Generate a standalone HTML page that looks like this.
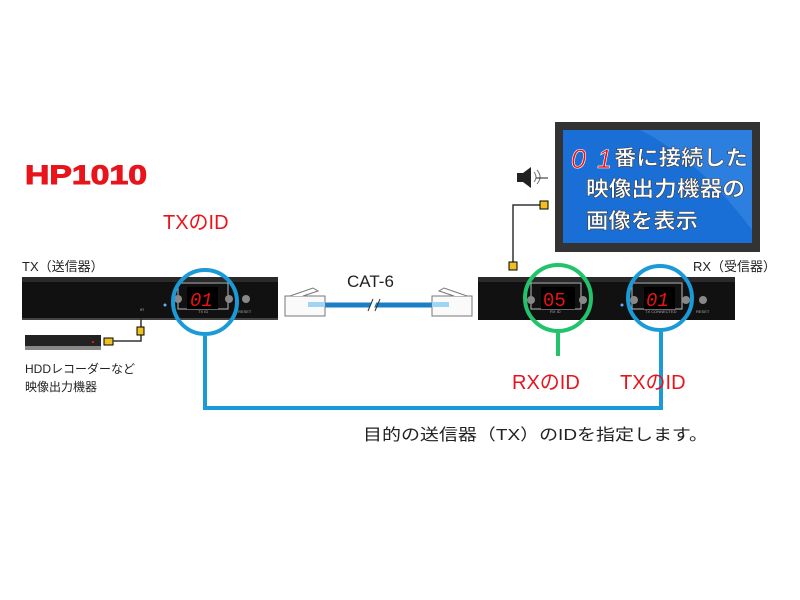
<!DOCTYPE html>
<html><head><meta charset="utf-8"><style>
body{margin:0;background:#fff;}
svg{display:block;font-family:"Liberation Sans","Noto Sans CJK JP",sans-serif;}
</style></head><body>
<svg width="800" height="600" viewBox="0 0 800 600" xmlns="http://www.w3.org/2000/svg">
<rect width="800" height="600" fill="#fff"/>
<text x="25" y="184" font-size="27" font-weight="bold" fill="#e8141c" font-family="Liberation Sans, sans-serif" textLength="122" lengthAdjust="spacingAndGlyphs" stroke="#e8141c" stroke-width="1">HP1010</text>
<text x="163" y="229" font-size="20" fill="#e8141c">TXのID</text>
<text x="22" y="271" font-size="13" fill="#222">TX（送信器）</text>

<!-- TX box -->
<rect x="22" y="277" width="256" height="43" fill="#111"/>
<rect x="22" y="277" width="256" height="5" fill="#2a2a2a"/>
<rect x="22" y="318" width="256" height="2" fill="#444"/>
<rect x="178" y="283" width="50" height="26" fill="none" stroke="#bbb" stroke-width="1"/>
<rect x="187" y="287" width="31" height="22" fill="#000"/>
<text x="190" y="306" font-size="19" fill="#e11" font-family="Liberation Mono, monospace" font-style="italic">01</text>
<circle cx="178" cy="299" r="4" fill="#888"/><circle cx="229" cy="299" r="4" fill="#888"/>
<circle cx="246" cy="299" r="4" fill="#888"/>
<text x="198" y="313" font-size="4" fill="#aaa">TX ID</text>
<text x="238" y="313" font-size="4" fill="#aaa">RESET</text>
<text x="140" y="311" font-size="4" fill="#aaa">IR</text>
<circle cx="165" cy="305" r="1.5" fill="#6af"/>

<polyline points="205,336 205,408 661,408 661,330" fill="none" stroke="#1a9ad6" stroke-width="4"/>
<line x1="558" y1="331" x2="558" y2="356" stroke="#22c36a" stroke-width="4"/>
<circle cx="205" cy="302" r="32" fill="none" stroke="#1a9ad6" stroke-width="4"/>

<!-- HDD -->
<rect x="25" y="335" width="76" height="13" fill="#222"/>
<rect x="25" y="346" width="76" height="4" fill="#888"/>
<rect x="92" y="341" width="2" height="2" fill="#e11"/>
<rect x="104" y="338" width="9" height="7" fill="#f0c020" stroke="#000"/>
<polyline points="113,341 141,341 141,318" fill="none" stroke="#333" stroke-width="1.5"/>
<rect x="137" y="327" width="7" height="8" fill="#f0c020" stroke="#000"/>
<text x="25" y="373" font-size="12" fill="#222">HDDレコーダーなど</text>
<text x="25" y="391" font-size="12" fill="#222">映像出力機器</text>

<!-- cable -->
<text x="347" y="287" font-size="17" fill="#222">CAT-6</text>
<line x1="320" y1="305" x2="437" y2="305" stroke="#1a7fc4" stroke-width="5"/>
<line x1="370" y1="312" x2="376" y2="298" stroke="#fff" stroke-width="4"/>
<line x1="368" y1="311" x2="373" y2="299" stroke="#333" stroke-width="1"/>
<line x1="375" y1="311" x2="380" y2="299" stroke="#333" stroke-width="1"/>
<g stroke="#777" stroke-width="1" fill="#fafafa">
<rect x="285" y="296" width="40" height="20"/>
<polyline points="290,296 313,288 318,291 303,296" fill="#fff"/>
<rect x="432" y="296" width="40" height="20"/>
<polyline points="467,296 444,288 439,291 454,296" fill="#fff"/>
</g>
<rect x="308" y="302" width="17" height="5" fill="#9fd4f4"/>
<rect x="432" y="302" width="17" height="5" fill="#9fd4f4"/>

<!-- monitor -->
<rect x="555" y="122" width="205" height="130" fill="#333"/>
<rect x="563" y="130" width="189" height="113" fill="#1a6fd6"/>
<path d="M640,130 L752,130 L752,230 Q700,160 640,130Z" fill="#3b8be5" opacity="0.6"/>
<text x="571" y="168" font-size="27" fill="#e11" font-style="italic" font-family="Liberation Sans, sans-serif" stroke="#fff" stroke-width="0.6">0</text>
<text x="597" y="168" font-size="27" fill="#e11" font-style="italic" font-family="Liberation Sans, sans-serif" stroke="#fff" stroke-width="0.6">1</text>
<g font-size="21" font-weight="bold" fill="#fff" stroke="#333" stroke-width="0.5">
<text x="614" y="165" textLength="134" lengthAdjust="spacingAndGlyphs">番に接続した</text>
<text x="586" y="196" textLength="159" lengthAdjust="spacingAndGlyphs">映像出力機器の</text>
<text x="586" y="228" textLength="112" lengthAdjust="spacingAndGlyphs">画像を表示</text>
</g>
<!-- speaker -->
<rect x="517" y="173" width="6" height="9" fill="#222"/>
<polygon points="523,173 531,167 531,188 523,182" fill="#222"/>
<path d="M534,172 q4,5 0,10 M537,170 q6,7 0,14" stroke="#777" fill="none"/>
<line x1="536" y1="178" x2="548" y2="178" stroke="#222"/>
<polyline points="541,205 513,205 513,263" fill="none" stroke="#333" stroke-width="1.5"/>
<rect x="540" y="201" width="8" height="8" fill="#f0c020" stroke="#000"/>
<rect x="509" y="262" width="8" height="8" fill="#f0c020" stroke="#000"/>

<text x="693" y="271" font-size="13" fill="#222">RX（受信器）</text>
<!-- RX box -->
<rect x="478" y="277" width="257" height="43" fill="#111"/>
<rect x="478" y="277" width="257" height="5" fill="#2a2a2a"/>
<rect x="531" y="283" width="50" height="26" fill="none" stroke="#bbb"/>
<rect x="541" y="287" width="34" height="22" fill="#000"/>
<text x="543" y="306" font-size="19" fill="#e11" font-family="Liberation Mono, monospace">05</text>
<circle cx="531" cy="300" r="4" fill="#888"/><circle cx="583" cy="300" r="4" fill="#888"/>
<rect x="632" y="283" width="50" height="26" fill="none" stroke="#bbb"/>
<rect x="644" y="287" width="31" height="22" fill="#000"/>
<text x="646" y="306" font-size="19" fill="#e11" font-family="Liberation Mono, monospace" font-style="italic">01</text>
<circle cx="634" cy="300" r="4" fill="#888"/><circle cx="686" cy="300" r="4" fill="#888"/>
<circle cx="703" cy="300" r="4" fill="#888"/>
<circle cx="622" cy="305" r="1.5" fill="#6af"/>
<text x="550" y="313" font-size="4" fill="#aaa">RX ID</text>
<text x="645" y="313" font-size="4" fill="#aaa">TX CONNECTED</text>
<text x="696" y="313" font-size="4" fill="#aaa">RESET</text>
<circle cx="558" cy="298" r="33" fill="none" stroke="#22c36a" stroke-width="4"/>
<circle cx="660" cy="298" r="32" fill="none" stroke="#1a9ad6" stroke-width="4"/>

<text x="512" y="389" font-size="20" fill="#e8141c">RXのID</text>
<text x="620" y="389" font-size="20" fill="#e8141c">TXのID</text>
<text x="363" y="440" font-size="16" fill="#222" textLength="345" lengthAdjust="spacingAndGlyphs">目的の送信器（TX）のIDを指定します。</text>
</svg>
</body></html>
